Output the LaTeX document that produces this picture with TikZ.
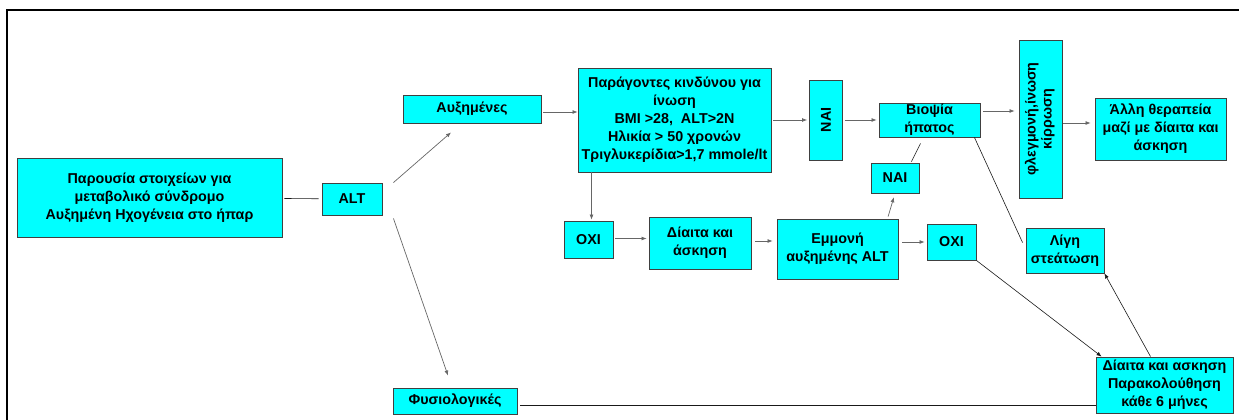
\documentclass[tikz,border=0pt]{standalone}
\usepackage{fontspec}
\setmainfont{Liberation Sans}
\usetikzlibrary{arrows.meta, calc}
\definecolor{boxcyan}{RGB}{0,255,255}

\begin{document}
\begin{tikzpicture}[x=1pt, y=-1pt, >={Latex[length=5pt,width=4pt]}, font=\bfseries\fontsize{14.3}{18}\selectfont]
  \tikzstyle{box}=[draw=black!75, line width=0.9pt, fill=boxcyan, align=center, inner sep=1pt]
  \tikzstyle{conn}=[draw=black!60, line width=0.7pt]
  \tikzstyle{link}=[draw=black!90, line width=0.6pt]

  \useasboundingbox (0,0) rectangle (1239,420);
  \draw[line width=2pt] (7,421) -- (7,10) -- (1240,10);

  % left part
  \node[box, minimum width=265pt, minimum height=79pt] (main) at (149.5,197.5) {Παρουσία στοιχείων για\\μεταβολικό σύνδρομο\\Αυξημένη Ηχογένεια στο ήπαρ};
  \node[box, minimum width=60pt, minimum height=32pt] (alt) at (352,199) {ALT};
  \node[box, minimum width=138pt, minimum height=28pt] (auxim) at (472,109) {Αυξημένες};
  \node[box, minimum width=124pt, minimum height=26pt] (fysio) at (455,401) {Φυσιολογικές};

  % upper row
  \node[box, minimum width=193pt, minimum height=104pt, inner sep=0pt] (risk) at (674.5,120) {Παράγοντες κινδύνου για\\ίνωση\\BMI >28,\ \ ALT>2N\\Ηλικία > 50 χρονών\\Τριγλυκερίδια>1,7 mmole/lt};
  \node[box, minimum width=33pt, minimum height=80pt] (nai1) at (826,120) {\rotatebox{90}{ΝΑΙ}};
  \node[box, minimum width=101pt, minimum height=34pt, inner sep=0pt] (biopsy) at (929.5,120) {Βιοψία\\ήπατος};
  \node[box, minimum width=43pt, minimum height=158pt] (flegm) at (1040.5,119) {\rotatebox{90}{\fontsize{14.3}{16}\selectfont\begin{tabular}{@{}c@{}}φλεγμονή,ίνωση\\κίρρωση\end{tabular}}};
  \node[box, minimum width=131pt, minimum height=62pt] (alli) at (1160.5,129) {Άλλη θεραπεία\\μαζί με δίαιτα και\\άσκηση};

  % lower row
  \node[box, minimum width=49pt, minimum height=37pt] (oxi1) at (588.5,239.5) {ΟΧΙ};
  \node[box, minimum width=102pt, minimum height=52pt] (diet1) at (700,243) {Δίαιτα και\\άσκηση};
  \node[box, minimum width=121pt, minimum height=60pt] (persist) at (837.5,249) {Εμμονή\\αυξημένης ALT};
  \node[box, minimum width=48pt, minimum height=30pt] (nai2) at (895,178) {ΝΑΙ};
  \node[box, minimum width=49pt, minimum height=36pt] (oxi2) at (951.5,242) {ΟΧΙ};
  \node[box, minimum width=78pt, minimum height=45pt, inner sep=0pt] (ligi) at (1065,250.5) {Λίγη\\στεάτωση};
  \node[box, minimum width=137pt, minimum height=56pt, inner sep=0pt] (diet2) at (1164.5,385) {Δίαιτα και ασκηση\\Παρακολούθηση\\κάθε 6 μήνες};

  % connectors
  \draw[link, shorten <=2pt, shorten >=3pt] (main) -- (alt);
  \draw[conn, ->] ([xshift=11pt]alt.north east) -- ([shift={(-21pt,-9pt)}]auxim.south);
  \draw[conn, ->] ([shift={(11pt,-3pt)}]alt.south east) -- ([shift={(-7pt,12pt)}]fysio.north);
  \draw[conn, ->, shorten <=2pt] ([yshift=-3pt]auxim.east) -- ([yshift=-3pt]auxim.east -| risk.west);
  \draw[conn, ->, shorten <=2pt, shorten >=2pt] (risk) -- (nai1);
  \draw[conn, ->, shorten <=2pt, shorten >=2pt] (nai1) -- (biopsy);
  \draw[conn, ->, shorten <=3pt, shorten >=4pt] ([yshift=9pt]biopsy.east) -- ([yshift=9pt]biopsy.east -| flegm.west);
  \draw[conn, ->, shorten <=1pt, shorten >=4pt] ([yshift=-4pt]flegm.east) -- ([yshift=-4pt]flegm.east -| alli.west);
  \draw[conn, ->, shorten >=1pt] ([xshift=3pt]oxi1.north |- risk.south) -- ([xshift=3pt]oxi1.north);
  \draw[conn, ->, shorten <=2pt, shorten >=2pt] ([yshift=1pt]oxi1.east) -- ([yshift=1pt]oxi1.east -| diet1.west);
  \draw[conn, ->, shorten <=4pt, shorten >=4pt] ([yshift=2pt]diet1.east) -- ([yshift=2pt]diet1.east -| persist.west);
  \draw[conn, ->, shorten <=2pt, shorten >=4pt] ([xshift=50pt]persist.north) -- (nai2.south);
  \draw[link, shorten <=1pt] ([xshift=16pt]nai2.north) -- ([shift={(-9pt,-6pt)}]biopsy.south);
  \draw[conn, ->, shorten <=4pt, shorten >=2pt] (persist.east |- oxi2) -- (oxi2.west);
  \draw[link] ([xshift=-6pt]biopsy.south east) -- ([shift={(-3pt,-15pt)}]ligi.north west);
  \draw[link, ->] (oxi2.south east) -- ([xshift=6pt]diet2.north west);
  \draw[link, ->] ([xshift=-14pt]diet2.north) -- (ligi.south east);
  \draw[link, shorten <=3pt] ([yshift=-4pt]fysio.east) -- ([yshift=-4pt]fysio.east -| diet2.west);

\end{tikzpicture}
\end{document}
